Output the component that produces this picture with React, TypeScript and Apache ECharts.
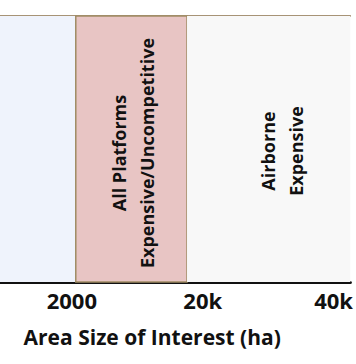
import React, { useEffect, useRef } from "react";
import * as echarts from "echarts";

// x positions are in "tick index" units: 1 = 2000 ha, 2 = 20k ha, 3 = 40k ha
const tickValues = [1, 2, 3];
const tickLabels = ["2000", "20k", "40k"];
const axisMin = 0.451;
const axisMax = 3.128;

const bandNames = ["", "All Platforms\nExpensive/Uncompetitive", "Airborne\nExpensive"];
const bandStarts = [0.451, 1.03, 1.88];
const bandEnds = [1.03, 1.88, 3.128];

const bandColors = ["#EFF3FC", "#E8C5C4", "#F8F8F8"];
const bandBorders = [0, 1.5, 0];
// offsets are in the rotated text frame: [along text (up), across text (right)]
const bandLabelOffsets = [
  [0, 0],
  [-4, 2],
  [-2, 13],
];

export default function App() {
  const ref = useRef<HTMLDivElement>(null);
  useEffect(() => {
    if (!ref.current) return;
    const chart = echarts.init(ref.current, null, { renderer: "svg" });
    const font = "Open Sans";
    chart.setOption({
      animation: false,
      grid: { left: 0, right: 0, top: 16, bottom: 82 },
      xAxis: [
        {
          type: "value",
          min: axisMin,
          max: axisMax,
          position: "bottom",
          name: "Area Size of Interest (ha)",
          nameLocation: "middle",
          nameGap: 44,
          nameTextStyle: {
            fontFamily: font,
            fontWeight: "bold",
            fontSize: 21,
            color: "#111",
            padding: [0, 46, 0, 0],
          },
          axisLine: { show: true, lineStyle: { color: "#111", width: 3 } },
          axisTick: { show: false },
          splitLine: { show: false },
          axisLabel: {
            customValues: tickValues,
            formatter: (v: number) => {
              const i = tickValues.indexOf(v);
              return i >= 0 ? tickLabels[i] : "";
            },
            margin: 7,
            fontFamily: font,
            fontWeight: "bold",
            fontSize: 22,
            color: "#111",
          },
        },
        {
          type: "value",
          min: axisMin,
          max: axisMax,
          position: "top",
          axisLine: { show: true, lineStyle: { color: "#8B7049", width: 1.5 } },
          axisTick: { show: false },
          axisLabel: { show: false },
          splitLine: { show: false },
        },
      ],
      yAxis: { type: "value", min: 0, max: 1, show: false },
      series: [
        {
          type: "line",
          data: [],
          silent: true,
          markArea: {
            silent: true,
            data: bandNames.map((name, i) => [
              {
                name,
                xAxis: bandStarts[i],
                itemStyle: {
                  color: bandColors[i],
                  borderColor: "#A08C64",
                  borderWidth: bandBorders[i],
                },
                label: {
                  show: true,
                  position: "inside",
                  rotate: 90,
                  offset: bandLabelOffsets[i],
                  fontFamily: font,
                  fontWeight: "bold",
                  fontSize: 18,
                  lineHeight: 28,
                  color: "#111",
                  align: "center",
                  verticalAlign: "middle",
                },
              },
              { xAxis: bandEnds[i] },
            ]),
          },
        },
      ],
    });
    return () => chart.dispose();
  }, []);
  return (
    <div
      ref={ref}
      style={{ position: "absolute", left: 0, top: 0, width: 356, height: 364 }}
    />
  );
}
